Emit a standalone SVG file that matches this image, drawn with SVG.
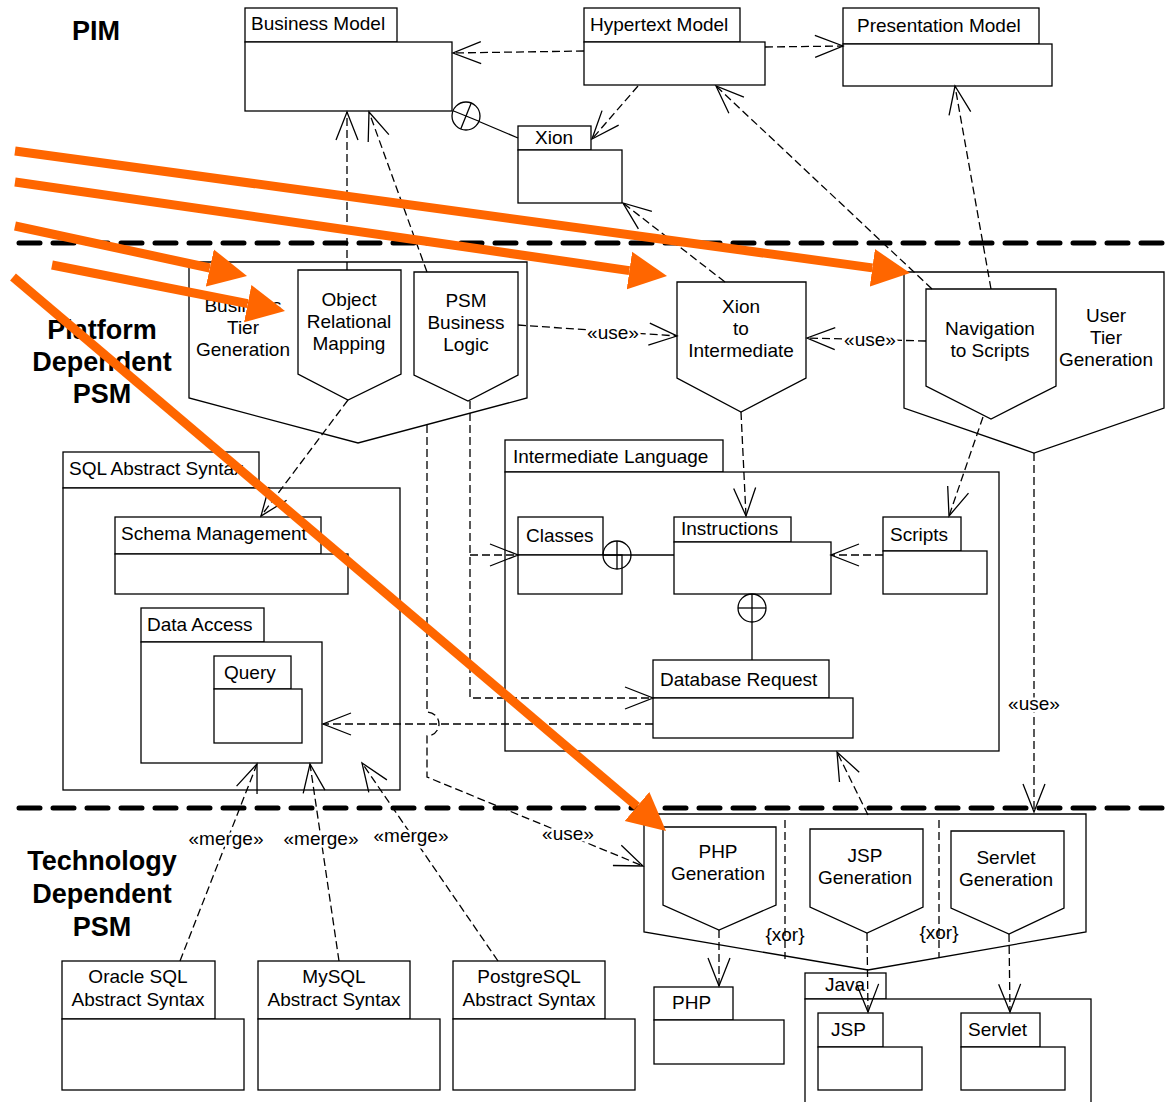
<svg xmlns="http://www.w3.org/2000/svg" width="1172" height="1102" viewBox="0 0 1172 1102">
  <style>
    .box { fill: #fff; stroke: #000; stroke-width: 1.3; }
    .ln { fill: none; stroke: #000; stroke-width: 1.3; }
    .dep { fill: none; stroke: #000; stroke-width: 1.3; stroke-dasharray: 8 4; }
    .arr { marker-end: url(#open); }
    .divider { fill: none; stroke: #000; stroke-width: 5; stroke-dasharray: 21 13; stroke-linecap: round; }
    .hot { fill: none; stroke: #ff6600; stroke-width: 9; marker-end: url(#hothead); }
    text { font-family: "Liberation Sans", Arial, sans-serif; font-size: 19px; fill: #000; }
    .c { text-anchor: middle; }
    .big { font-size: 27px; font-weight: bold; text-anchor: middle; }
    .halo { stroke: #fff; stroke-width: 5; paint-order: stroke; stroke-linejoin: round; }
  </style>
  <defs>
    <marker id="open" markerUnits="userSpaceOnUse" orient="auto" markerWidth="60" markerHeight="60" refX="30" refY="30">
      <path d="M2,19 L30,30 L2,41" fill="none" stroke="#000" stroke-width="1.3" stroke-dasharray="none"/>
    </marker>
    <marker id="hothead" markerUnits="userSpaceOnUse" orient="auto" markerWidth="40" markerHeight="40" refX="0" refY="20">
      <path d="M0,1 L38,20 L0,39 Z" fill="#ff6600" stroke="none"/>
    </marker>
  </defs>

  <rect x="0" y="0" width="1172" height="1102" fill="#fff"/>

  <!-- layer titles -->
  <g id="layer-titles">
    <text class="big" x="96" y="40">PIM</text>
    <text class="big" x="102" y="339">Platform</text>
    <text class="big" x="102" y="371">Dependent</text>
    <text class="big" x="102" y="403">PSM</text>
    <text class="big" x="102" y="870">Technology</text>
    <text class="big" x="102" y="903">Dependent</text>
    <text class="big" x="102" y="936">PSM</text>
  </g>

  <!-- layer dividers -->
  <g id="dividers">
    <line class="divider" x1="19" y1="243" x2="1163" y2="243"/>
    <line class="divider" x1="19" y1="808" x2="1163" y2="808"/>
  </g>

  <!-- PIM packages -->
  <g id="business-model">
    <rect class="box" x="245" y="8" width="152" height="34"/>
    <rect class="box" x="245" y="42" width="207" height="69"/>
    <text x="251" y="30">Business Model</text>
  </g>
  <g id="hypertext-model">
    <rect class="box" x="584" y="8" width="156" height="34"/>
    <rect class="box" x="584" y="42" width="181" height="43"/>
    <text x="590" y="31">Hypertext Model</text>
  </g>
  <g id="presentation-model">
    <rect class="box" x="843" y="8" width="196" height="36"/>
    <rect class="box" x="843" y="44" width="209" height="42"/>
    <text x="857" y="32">Presentation Model</text>
  </g>
  <g id="xion">
    <rect class="box" x="518" y="126" width="73" height="24"/>
    <rect class="box" x="518" y="150" width="104" height="53"/>
    <text class="c" x="554" y="144">Xion</text>
  </g>

  <!-- platform dependent transformations -->
  <g id="business-tier-generation">
    <path class="box" d="M189,262 H527 V398 L358,443 L189,398 Z"/>
    <text class="c" x="243" y="312">Business</text>
    <text class="c" x="243" y="334">Tier</text>
    <text class="c" x="243" y="356">Generation</text>
  </g>
  <g id="object-relational-mapping">
    <path class="box" d="M298,270 H401 V374 L348,400 L298,374 Z"/>
    <text class="c" x="349" y="306">Object</text>
    <text class="c" x="349" y="328">Relational</text>
    <text class="c" x="349" y="350">Mapping</text>
  </g>
  <g id="psm-business-logic">
    <path class="box" d="M414,272 H518 V375 L468,401 L414,375 Z"/>
    <text class="c" x="466" y="307">PSM</text>
    <text class="c" x="466" y="329">Business</text>
    <text class="c" x="466" y="351">Logic</text>
  </g>
  <g id="xion-to-intermediate">
    <path class="box" d="M677,282 H806 V378 L741,412 L677,378 Z"/>
    <text class="c" x="741" y="313">Xion</text>
    <text class="c" x="741" y="335">to</text>
    <text class="c" x="741" y="357">Intermediate</text>
  </g>
  <g id="user-tier-generation">
    <path class="box" d="M904,272 H1164 V408 L1034,453 L904,408 Z"/>
    <text class="c" x="1106" y="322">User</text>
    <text class="c" x="1106" y="344">Tier</text>
    <text class="c" x="1106" y="366">Generation</text>
  </g>
  <g id="navigation-to-scripts">
    <path class="box" d="M926,289 H1056 V386 L991,419 L926,386 Z"/>
    <text class="c" x="990" y="335">Navigation</text>
    <text class="c" x="990" y="357">to Scripts</text>
  </g>

  <!-- SQL abstract syntax -->
  <g id="sql-abstract-syntax">
    <rect class="box" x="63" y="452" width="196" height="36"/>
    <rect class="box" x="63" y="488" width="337" height="302"/>
    <text x="69" y="475">SQL Abstract Syntax</text>
  </g>
  <g id="schema-management">
    <rect class="box" x="115" y="517" width="206" height="37"/>
    <rect class="box" x="115" y="554" width="233" height="40"/>
    <text x="121" y="540">Schema Management</text>
  </g>
  <g id="data-access">
    <rect class="box" x="141" y="608" width="123" height="34"/>
    <rect class="box" x="141" y="642" width="181" height="121"/>
    <text x="147" y="631">Data Access</text>
  </g>
  <g id="query">
    <rect class="box" x="214" y="656" width="77" height="33"/>
    <rect class="box" x="214" y="689" width="88" height="54"/>
    <text x="224" y="679">Query</text>
  </g>

  <!-- intermediate language -->
  <g id="intermediate-language">
    <rect class="box" x="505" y="440" width="218" height="32"/>
    <rect class="box" x="505" y="472" width="494" height="279"/>
    <text x="513" y="463">Intermediate Language</text>
  </g>
  <g id="classes">
    <rect class="box" x="518" y="517" width="85" height="38"/>
    <rect class="box" x="518" y="555" width="104" height="39"/>
    <text x="526" y="542">Classes</text>
  </g>
  <g id="instructions">
    <rect class="box" x="674" y="517" width="117" height="25"/>
    <rect class="box" x="674" y="542" width="157" height="52"/>
    <text x="681" y="535">Instructions</text>
  </g>
  <g id="scripts">
    <rect class="box" x="883" y="517" width="78" height="34"/>
    <rect class="box" x="883" y="551" width="104" height="43"/>
    <text x="890" y="541">Scripts</text>
  </g>
  <g id="database-request">
    <rect class="box" x="653" y="660" width="176" height="38"/>
    <rect class="box" x="653" y="698" width="200" height="40"/>
    <text x="660" y="686">Database Request</text>
  </g>

  <!-- technology dependent transformations -->
  <g id="technology-generation">
    <path class="box" d="M644,814 H1086 V932 L868,970 L644,932 Z"/>
  </g>
  <g id="php-generation">
    <path class="box" d="M663,827 H776 V905 L719,930 L663,905 Z"/>
    <text class="c" x="718" y="858">PHP</text>
    <text class="c" x="718" y="880">Generation</text>
  </g>
  <g id="jsp-generation">
    <path class="box" d="M810,829 H923 V907 L867,933 L810,907 Z"/>
    <text class="c" x="865" y="862">JSP</text>
    <text class="c" x="865" y="884">Generation</text>
  </g>
  <g id="servlet-generation">
    <path class="box" d="M951,831 H1064 V908 L1009,934 L951,908 Z"/>
    <text class="c" x="1006" y="864">Servlet</text>
    <text class="c" x="1006" y="886">Generation</text>
  </g>

  <!-- technology packages -->
  <g id="oracle-sql">
    <rect class="box" x="62" y="961" width="153" height="58"/>
    <rect class="box" x="62" y="1019" width="182" height="71"/>
    <text class="c" x="138" y="983">Oracle SQL</text>
    <text class="c" x="138" y="1006">Abstract Syntax</text>
  </g>
  <g id="mysql">
    <rect class="box" x="258" y="961" width="152" height="58"/>
    <rect class="box" x="258" y="1019" width="182" height="71"/>
    <text class="c" x="334" y="983">MySQL</text>
    <text class="c" x="334" y="1006">Abstract Syntax</text>
  </g>
  <g id="postgresql">
    <rect class="box" x="453" y="961" width="152" height="58"/>
    <rect class="box" x="453" y="1019" width="182" height="71"/>
    <text class="c" x="529" y="983">PostgreSQL</text>
    <text class="c" x="529" y="1006">Abstract Syntax</text>
  </g>
  <g id="php">
    <rect class="box" x="654" y="987" width="79" height="33"/>
    <rect class="box" x="654" y="1020" width="130" height="44"/>
    <text x="672" y="1009">PHP</text>
  </g>
  <g id="java">
    <rect class="box" x="805" y="973" width="81" height="26"/>
    <rect class="box" x="805" y="999" width="286" height="120"/>
    <text x="825" y="991">Java</text>
  </g>
  <g id="jsp">
    <rect class="box" x="818" y="1013" width="65" height="34"/>
    <rect class="box" x="818" y="1047" width="104" height="43"/>
    <text x="831" y="1036">JSP</text>
  </g>
  <g id="servlet">
    <rect class="box" x="961" y="1013" width="79" height="34"/>
    <rect class="box" x="961" y="1047" width="104" height="43"/>
    <text x="968" y="1036">Servlet</text>
  </g>

  <!-- connectors -->
  <g id="connectors">
    <!-- containment links -->
    <circle class="ln" cx="466" cy="116" r="14" fill="#fff"/>
    <g transform="rotate(22 466 116)">
      <line class="ln" x1="452" y1="116" x2="480" y2="116"/>
      <line class="ln" x1="466" y1="102" x2="466" y2="130"/>
    </g>
    <line class="ln" x1="479" y1="121.5" x2="518" y2="138"/>

    <circle class="ln" cx="617" cy="555" r="14"/>
    <line class="ln" x1="603" y1="555" x2="674" y2="555"/>
    <line class="ln" x1="617" y1="541" x2="617" y2="569"/>

    <circle class="ln" cx="752" cy="608" r="14"/>
    <line class="ln" x1="738" y1="608" x2="766" y2="608"/>
    <line class="ln" x1="752" y1="594" x2="752" y2="660"/>

    <!-- dependencies -->
    <path class="dep arr" d="M584,51 L453,53"/>
    <path class="dep arr" d="M765,47 L843,46"/>
    <path class="dep arr" d="M638,86 L592,139"/>
    <path class="dep arr" d="M725,282 L623,203"/>
    <path class="dep arr" d="M932,289 L716,86"/>
    <path class="dep arr" d="M991,289 L955,86"/>
    <path class="dep arr" d="M347,270 L347,112"/>
    <path class="dep arr" d="M427,272 L369,112"/>
    <path class="dep arr" d="M518,325 L677,336"/>
    <path class="dep arr" d="M926,341 L807,338"/>
    <path class="dep arr" d="M348,400 L261,516"/>
    <path class="dep arr" d="M741,412 L746,516"/>
    <path class="dep arr" d="M983,417 L949,516"/>
    <path class="dep arr" d="M1034,453 L1034,812"/>
    <path class="dep arr" d="M470,401 V698 H653"/>
    <path class="dep arr" d="M470,555 H518"/>
    <path class="dep arr" d="M883,555 H831"/>
    <path class="dep arr" d="M653,724 H323"/>
    <path class="dep arr" d="M427,425 V712 A12,12 0 0 1 427,736 V777 L643,866"/>
    <path class="dep arr" d="M868,815 L837,752"/>
    <path class="dep arr" d="M180,961 L257,764"/>
    <path class="dep arr" d="M339,961 L310,764"/>
    <path class="dep arr" d="M498,961 L362,763"/>
    <path class="dep arr" d="M719,930 L719,986"/>
    <path class="dep arr" d="M867,933 L868,1012"/>
    <path class="dep arr" d="M1009,934 L1010,1012"/>
    <path class="dep" d="M785,820 V959"/>
    <path class="dep" d="M939,820 V957"/>

    <!-- connector labels -->
    <text class="c halo" x="613" y="339">«use»</text>
    <text class="c halo" x="870" y="346">«use»</text>
    <text class="c halo" x="1034" y="710">«use»</text>
    <text class="c halo" x="568" y="840">«use»</text>
    <text class="c halo" x="226" y="845">«merge»</text>
    <text class="c halo" x="321" y="845">«merge»</text>
    <text class="c halo" x="411" y="842">«merge»</text>
    <text class="c" x="785" y="941">{xor}</text>
    <text class="c" x="939" y="939">{xor}</text>
  </g>

  <!-- highlight arrows -->
  <g id="highlights">
    <line class="hot" x1="15" y1="151" x2="872.35" y2="267.87"/>
    <line class="hot" x1="15" y1="182" x2="629.39" y2="270.58"/>
    <line class="hot" x1="15" y1="226" x2="209.85" y2="267.99"/>
    <line class="hot" x1="52" y1="265" x2="247.72" y2="303.64"/>
    <line class="hot" x1="13" y1="277" x2="637.02" y2="806.42"/>
  </g>
</svg>
